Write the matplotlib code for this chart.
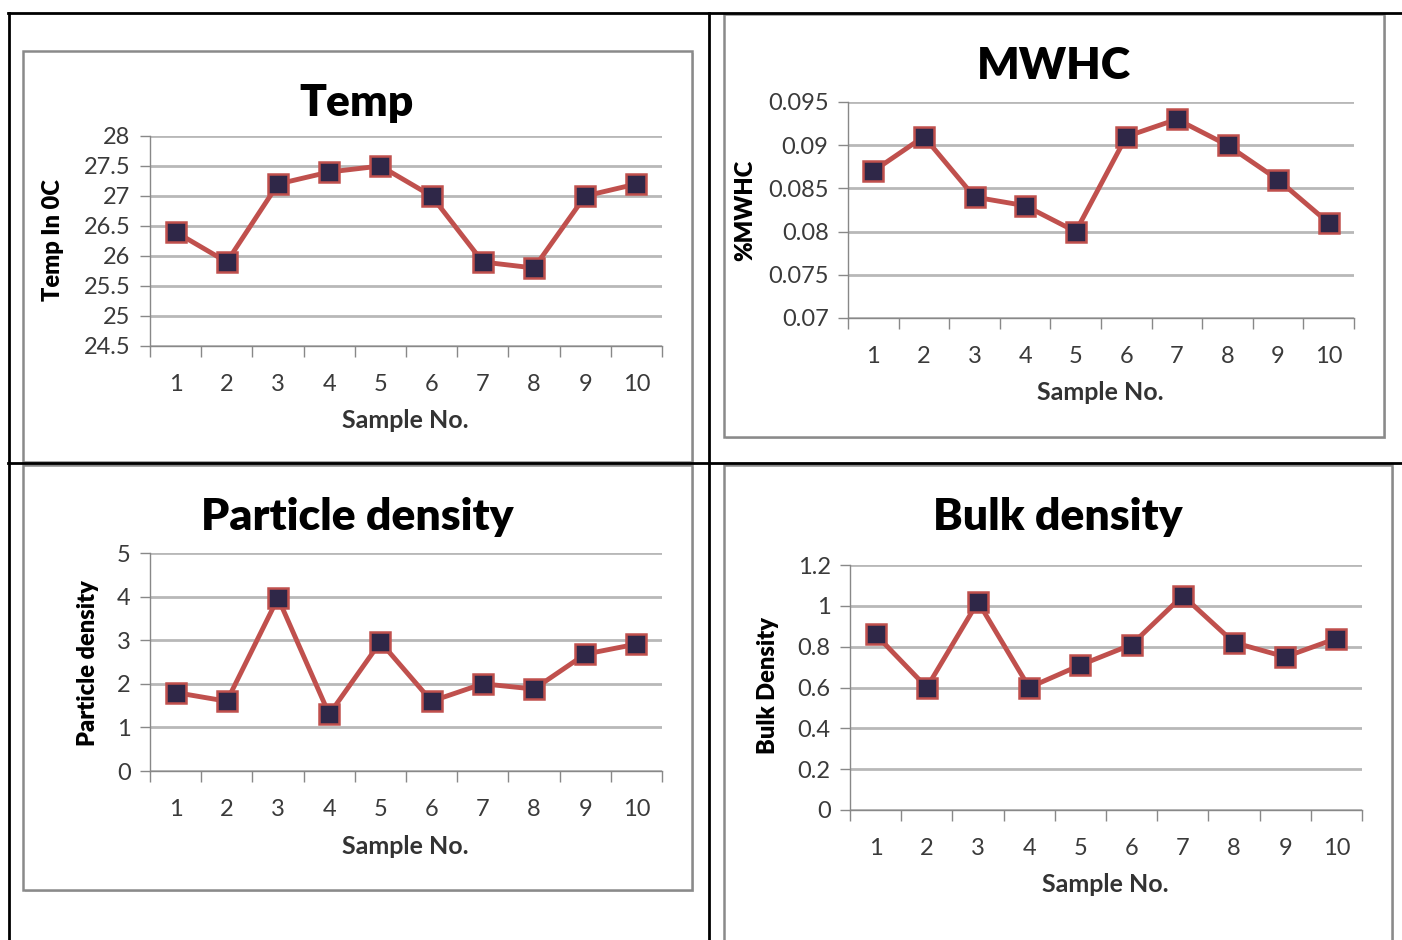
import matplotlib.pyplot as plt
from matplotlib.patches import Rectangle
from matplotlib.lines import Line2D

# 数据
samples = [1, 2, 3, 4, 5, 6, 7, 8, 9, 10]
temp = [26.4, 25.9, 27.2, 27.4, 27.5, 27.0, 25.9, 25.8, 27.0, 27.2]
mwhc = [0.087, 0.091, 0.084, 0.083, 0.080, 0.091, 0.093, 0.090, 0.086, 0.081]
particle = [1.8, 1.6, 3.97, 1.3, 2.96, 1.6, 2.0, 1.88, 2.68, 2.91]
bulk = [0.86, 0.60, 1.02, 0.60, 0.71, 0.81, 1.05, 0.82, 0.75, 0.84]

temp_ticks = [24.5, 25, 25.5, 26, 26.5, 27, 27.5, 28]
mwhc_ticks = [0.07, 0.075, 0.08, 0.085, 0.09, 0.095]
particle_ticks = [0, 1, 2, 3, 4, 5]
bulk_ticks = [0, 0.2, 0.4, 0.6, 0.8, 1, 1.2]

W, H = 1402, 940
plt.rcParams['font.family'] = ['Lato', 'DejaVu Sans']

fig = plt.figure(figsize=(W / 100, H / 100), dpi=100)
fig.patch.set_facecolor('white')


def px_rect(x0, y0, x1, y1):
    return [x0 / W, 1 - y1 / H, (x1 - x0) / W, (y1 - y0) / H]


def hline(x0, x1, y, **kw):
    fig.add_artist(Line2D([x0 / W, x1 / W], [1 - y / H, 1 - y / H], **kw))


def vline(x, y0, y1, **kw):
    fig.add_artist(Line2D([x / W, x / W], [1 - y0 / H, 1 - y1 / H], **kw))


# 表格边框
hline(8, W, 13, color='black', lw=2)
hline(8, W, 463, color='black', lw=2)
vline(9, 13, H, color='black', lw=2)
vline(709, 13, H, color='black', lw=2)

# 图表外框
for (x0, y0, x1, y1) in [(23, 51, 692, 462), (724, 14, 1384, 437),
                         (23, 465, 692, 890), (724, 465, 1392, 945)]:
    fig.add_artist(Rectangle((x0 / W + 0.0015, 1 - y1 / H - 0.002),
                             (x1 - x0) / W, (y1 - y0) / H,
                             facecolor='#d0d0d0', edgecolor='none', zorder=0))
    fig.add_artist(Rectangle((x0 / W, 1 - y1 / H), (x1 - x0) / W, (y1 - y0) / H,
                             facecolor='white', edgecolor='#8a8a8a', lw=1.8, zorder=0))


def draw(rect, values, ticks, title, ylabel, title_xy, ylabel_xy, xlabel_xy):
    ax = fig.add_axes(px_rect(*rect))
    ax.set_facecolor('none')
    ax.plot(samples, values, color='#c0504d', lw=3.5, marker='s', markersize=15,
            markerfacecolor='#2f2748', markeredgecolor='#c0504d', markeredgewidth=1.8,
            zorder=3, clip_on=False)
    ax.set_xlim(0.5, 10.5)
    ax.set_ylim(ticks[0], ticks[-1])
    ax.set_yticks(ticks)
    ax.set_yticklabels([f'{t:g}' for t in ticks])
    ax.yaxis.grid(True, color='#b8b8b8', lw=2)
    ax.set_axisbelow(True)
    # 分类轴：刻度在类别之间
    ax.set_xticks([i + 0.5 for i in range(0, 11)])
    ax.set_xticklabels([])
    ax.set_xticks(samples, minor=True)
    ax.set_xticklabels([str(s) for s in samples], minor=True)
    ax.tick_params(axis='x', which='major', length=8, width=1, color='#888888', direction='out')
    ax.tick_params(axis='x', which='minor', length=0, pad=20, labelsize=17, labelcolor='#3a3a3a')
    ax.tick_params(axis='y', length=7, width=1, color='#888888', pad=7,
                   labelsize=17, labelcolor='#3a3a3a')
    for s in ['top', 'right']:
        ax.spines[s].set_visible(False)
    for s in ['left', 'bottom']:
        ax.spines[s].set_color('#888888')
        ax.spines[s].set_linewidth(1)
    fig.text(title_xy[0] / W, 1 - title_xy[1] / H, title, ha='center', va='center',
             fontsize=32, fontweight='heavy', color='black')
    fig.text(ylabel_xy[0] / W, 1 - ylabel_xy[1] / H, ylabel, ha='center', va='center',
             rotation=90, fontsize=17, fontweight='heavy', color='black')
    fig.text(xlabel_xy[0] / W, 1 - xlabel_xy[1] / H, 'Sample No.', ha='center', va='center',
             fontsize=18, fontweight='bold', color='#333333')
    return ax


draw((150, 136, 662, 346), temp, temp_ticks, 'Temp', 'Temp In 0C',
     (357, 103), (53, 240), (405, 421))
draw((848, 102, 1354, 318), mwhc, mwhc_ticks, 'MWHC', '%MWHC',
     (1054, 66), (745, 210), (1100, 393))
draw((150, 553, 662, 771), particle, particle_ticks, 'Particle density', 'Particle density',
     (357, 517), (88, 663), (405, 846))
draw((850, 565, 1362, 810), bulk, bulk_ticks, 'Bulk density', 'Bulk Density',
     (1058, 517), (768, 686), (1105, 884))

fig.savefig('out.png', dpi=100)
